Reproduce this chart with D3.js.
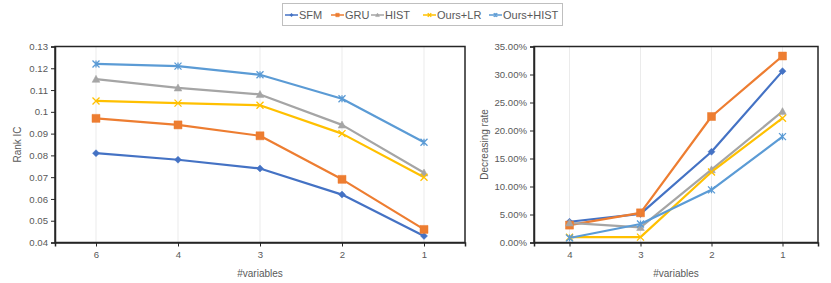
<!DOCTYPE html>
<html><head><meta charset="utf-8">
<script src="https://cdn.jsdelivr.net/npm/d3@7"></script>
<style>
body{margin:0;background:#fff;}
svg text{font-family:"Liberation Sans",Arial,sans-serif;}
</style></head>
<body><svg id="c" width="831" height="283"></svg>
<script>
const seriesNames = ["SFM","GRU","HIST","Ours+LR","Ours+HIST"];
const seriesColors = ["#4472C4","#ED7D31","#A5A5A5","#FFC000","#5B9BD5"];
const seriesMarkers = ["diamond","square","triangle","x","star"];

const leftCategories = ["6","4","3","2","1"];
const rankSFM = [0.081,0.078,0.074,0.062,0.043];
const rankGRU = [0.097,0.094,0.089,0.069,0.046];
const rankHIST = [0.115,0.111,0.108,0.094,0.072];
const rankOursLR = [0.105,0.104,0.103,0.090,0.070];
const rankOursHIST = [0.122,0.121,0.117,0.106,0.086];
const leftTicks = [0.04,0.05,0.06,0.07,0.08,0.09,0.1,0.11,0.12,0.13];

const rightCategories = ["4","3","2","1"];
const decSFM = [0.037,0.051,0.162,0.306];
const decGRU = [0.031,0.053,0.225,0.333];
const decHIST = [0.035,0.027,0.130,0.234];
const decOursLR = [0.0095,0.0096,0.126,0.222];
const decOursHIST = [0.008,0.033,0.094,0.189];
const rightTicks = [0,0.05,0.10,0.15,0.20,0.25,0.30,0.35];

const svg = d3.select("#c");
const axisColor = "#262626", labelColor = "#595959";

function markerPath(type, s){
  const h = s/2;
  if(type==="diamond") return `M0,${-h}L${h},0L0,${h}L${-h},0Z`;
  if(type==="square") return `M${-h},${-h}H${h}V${h}H${-h}Z`;
  if(type==="triangle") return `M0,${-h*1.1}L${h*1.1},${h*0.9}L${-h*1.1},${h*0.9}Z`;
  if(type==="x") return `M${-h},${-h}L${h},${h}M${h},${-h}L${-h},${h}`;
  if(type==="star") return `M${-h},${-h}L${h},${h}M${h},${-h}L${-h},${h}M0,${-h}V${h}`;
}
function drawMarker(g, type, color, x, y, s){
  const filled = !(type==="x"||type==="star");
  g.append("path").attr("d", markerPath(type,s)).attr("transform",`translate(${x},${y})`)
    .attr("fill", filled?color:"none").attr("stroke", color).attr("stroke-width", filled?0.5:1.3);
}

function drawChart(opts){
  const {x0,x1,y0,y1,cats,data,ticks,fmt,yTitle,yTitleX} = opts;
  const g = svg.append("g");
  const x = d3.scalePoint().domain(cats).range([x0,x1]).padding(0.5);
  const y = d3.scaleLinear().domain([ticks[0],ticks[ticks.length-1]]).range([y1,y0]);
  // gridlines
  g.selectAll(".grid").data(cats).join("line")
    .attr("x1",d=>x(d)).attr("x2",d=>x(d)).attr("y1",y0).attr("y2",y1)
    .attr("stroke","#ebebeb").attr("stroke-width",1);
  // frame
  g.append("rect").attr("x",x0).attr("y",y0).attr("width",x1-x0).attr("height",y1-y0)
    .attr("fill","none").attr("stroke",axisColor).attr("stroke-width",1.5);
  // y axis
  const ya = g.append("g").attr("transform",`translate(${x0},0)`)
    .call(d3.axisLeft(y).tickValues(ticks).tickFormat(fmt).tickSize(4).tickPadding(3));
  ya.select(".domain").attr("stroke",axisColor).attr("stroke-width",1.5);
  ya.selectAll(".tick line").attr("stroke",axisColor);
  ya.selectAll("text").attr("fill",labelColor).style("font-size","9.6px");
  // x axis
  const xa = g.append("g").attr("transform",`translate(0,${y1})`)
    .call(d3.axisBottom(x).tickSize(4).tickPadding(5).tickSizeOuter(4));
  xa.select(".domain").attr("stroke",axisColor).attr("stroke-width",1.5);
  xa.selectAll(".tick line").attr("stroke",axisColor);
  xa.selectAll("text").attr("fill",labelColor).style("font-size","9.6px");
  // titles
  g.append("text").attr("x",(x0+x1)/2).attr("y",277).attr("text-anchor","middle")
    .attr("fill",labelColor).style("font-size","10px").text("#variables");
  g.append("text").attr("transform",`translate(${yTitleX},${(y0+y1)/2}) rotate(-90)`)
    .attr("text-anchor","middle").attr("fill",labelColor).style("font-size","10px").text(yTitle);
  // series
  const line = d3.line().x((d,i)=>x(cats[i])).y(d=>y(d));
  data.forEach((vals,si)=>{
    g.append("path").attr("d",line(vals)).attr("fill","none")
      .attr("stroke",seriesColors[si]).attr("stroke-width",2.2).attr("stroke-linejoin","round");
  });
  data.forEach((vals,si)=>{
    vals.forEach((v,i)=>drawMarker(g, seriesMarkers[si], seriesColors[si], x(cats[i]), y(v),
      seriesMarkers[si]==="square"?8:(seriesMarkers[si]==="diamond"?7:7)));
  });
}

drawChart({x0:55,x1:465,y0:46.5,y1:242.5,cats:leftCategories,
  data:[rankSFM,rankGRU,rankHIST,rankOursLR,rankOursHIST],
  ticks:leftTicks,fmt:d=>d3.format("")(+d.toFixed(2)),yTitle:"Rank IC",yTitleX:21});
drawChart({x0:534,x1:818,y0:46.5,y1:242.5,cats:rightCategories,
  data:[decSFM,decGRU,decHIST,decOursLR,decOursHIST],
  ticks:rightTicks,fmt:d3.format(".2%"),yTitle:"Decreasing rate",yTitleX:488});

// legend
const lg = svg.append("g");
lg.append("rect").attr("x",282.5).attr("y",3.5).attr("width",280).attr("height",22)
  .attr("fill","#fff").attr("stroke","#bfbfbf").attr("stroke-width",1);
const legendX = [285,331,371,423,489];
seriesNames.forEach((n,i)=>{
  const lx = legendX[i];
  lg.append("line").attr("x1",lx).attr("x2",lx+13).attr("y1",15).attr("y2",15)
    .attr("stroke",seriesColors[i]).attr("stroke-width",1.5);
  drawMarker(lg, seriesMarkers[i], seriesColors[i], lx+6.5, 15, 3.5);
  lg.append("text").attr("x",lx+14).attr("y",19).attr("fill",labelColor)
    .style("font-size","11px").text(n);
});
</script></body></html>
